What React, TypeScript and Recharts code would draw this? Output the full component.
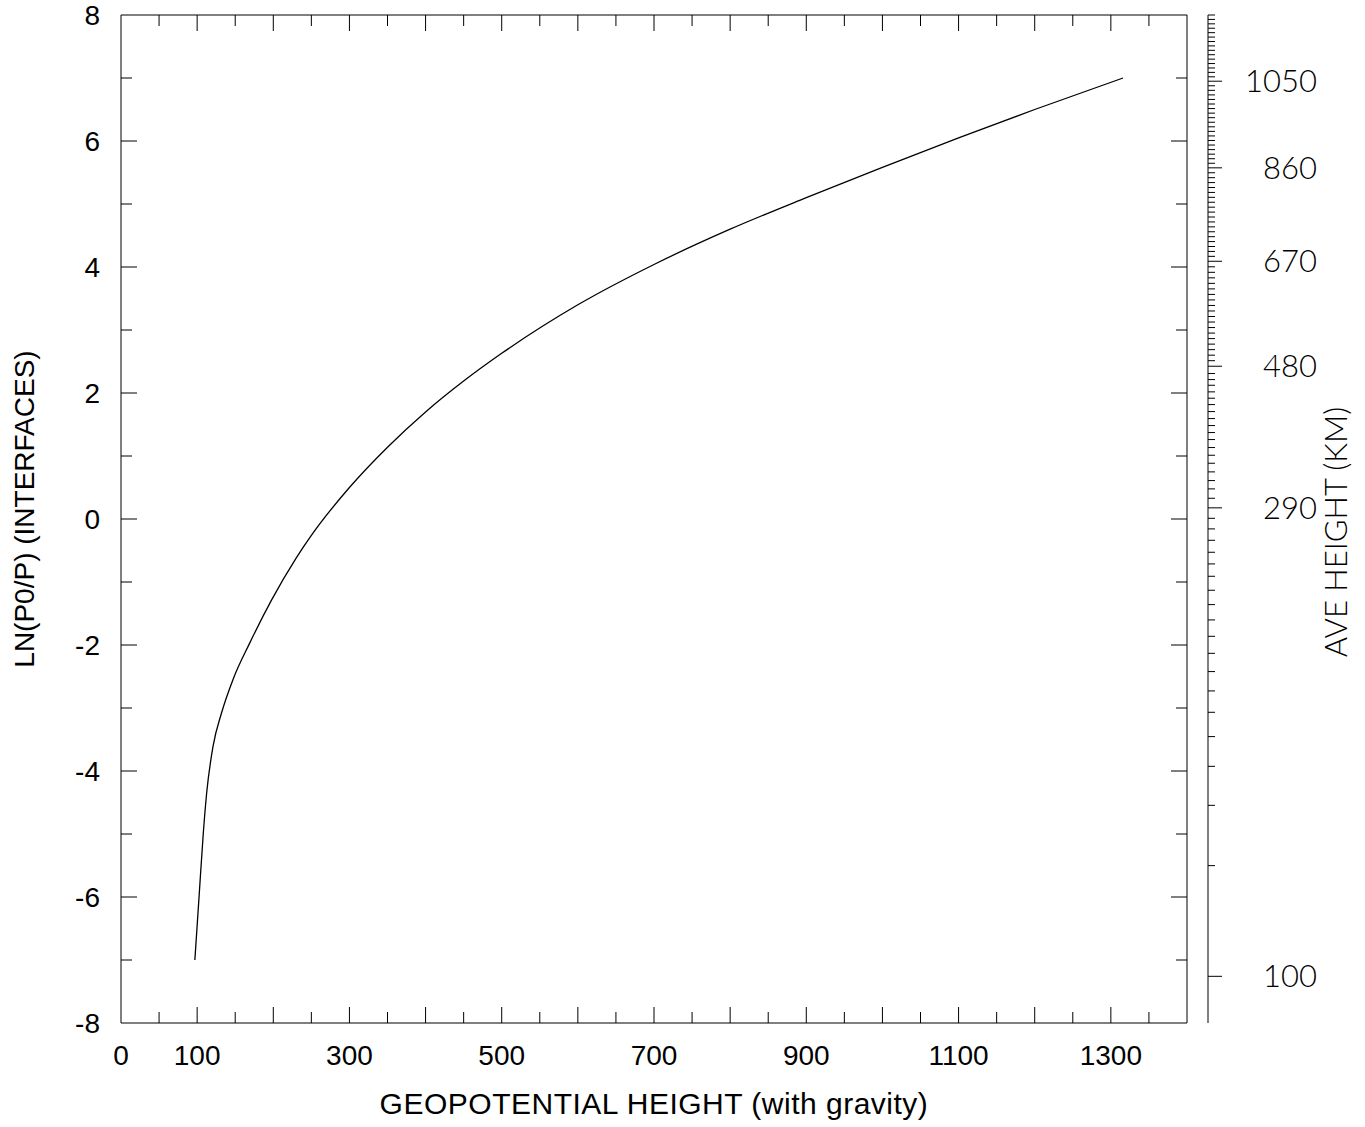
import React from 'react';
import { LineChart, Line, XAxis, YAxis } from 'recharts';

// geopotential height vs ln(p0/p)
const geoHeight = [97, 102.5, 108, 112.5, 121, 132, 147, 169, 198, 230, 250, 300, 350, 400, 450, 500, 600, 700, 800, 900, 1000, 1100, 1200, 1316];
const lnP0P = [-7.0, -6.0, -5.0, -4.35, -3.6, -3.08, -2.55, -1.97, -1.28, -0.62, -0.26, 0.5, 1.14, 1.7, 2.19, 2.63, 3.4, 4.04, 4.6, 5.1, 5.58, 6.05, 6.5, 7.0];

const xLabels = [0, 100, 300, 500, 700, 900, 1100, 1300];
const yLabels = [-8, -6, -4, -2, 0, 2, 4, 6, 8];

// right axis: average height (km) and where it sits on the ln(p0/p) scale
const aveLabels = [100, 290, 480, 670, 860, 1050];
const aveKm = [100, 110, 120, 130, 140, 150, 160, 170, 180, 190, 200, 210, 220, 230, 240, 250, 260, 270, 280, 290, 300, 310, 320, 330, 340, 350, 360, 370, 380, 390, 400, 410, 420, 430, 440, 450, 460, 470, 480, 670, 860, 1050, 1200];
const aveLn = [-7.259, -5.502, -4.545, -3.926, -3.454, -3.068, -2.729, -2.422, -2.132, -1.862, -1.602, -1.359, -1.131, -0.909, -0.713, -0.528, -0.338, -0.157, 0.011, 0.177, 0.329, 0.478, 0.61, 0.748, 0.885, 1.012, 1.134, 1.261, 1.372, 1.483, 1.594, 1.705, 1.816, 1.917, 2.018, 2.123, 2.213, 2.309, 2.425, 4.091, 5.574, 6.949, 8.0];

const data = geoHeight.map((x, i) => ({ x, y: lnP0P[i] }));

const xTicks: number[] = [];
for (let v = 0; v <= 1400; v += 50) xTicks.push(v);
const yTicks: number[] = [];
for (let v = -8; v <= 8; v++) yTicks.push(v);

// one tick every 10 km on the ave height axis
const aveTicks: { km: number; ln: number }[] = [];
for (let km = 100; km <= 1200; km += 10) {
  let j = 0;
  while (j < aveKm.length - 2 && aveKm[j + 1] < km) j++;
  const t = (km - aveKm[j]) / (aveKm[j + 1] - aveKm[j]);
  aveTicks.push({ km, ln: aveLn[j] + t * (aveLn[j + 1] - aveLn[j]) });
}

// the right side axis carries both the frame ticks and the ave height ticks
const rightTicks = [
  ...yTicks.map((v) => ({ kind: 'frame', v, km: 0 })),
  ...aveTicks.map((t) => ({ kind: 'ave', v: t.ln, km: t.km })),
];

const SANS = '"Liberation Sans", Arial, sans-serif';
const THIN = 'Lato, "DejaVu Sans Mono", monospace';
const FS = 28;
const AVE_GAP = 21;

const BottomTick = (p: any) => {
  const v = p.payload.value;
  const len = v % 100 === 0 ? 16 : 11;
  return (
    <g>
      {v > 0 && v < 1400 && <line x1={p.x} x2={p.x} y1={p.y} y2={p.y - len} stroke="#000" />}
      {xLabels.includes(v) && (
        <text x={p.x} y={p.y + 42} textAnchor="middle" fontFamily={SANS} fontSize={FS} fill="#000">{v}</text>
      )}
    </g>
  );
};

const TopTick = (p: any) => {
  const v = p.payload.value;
  const len = v % 100 === 0 ? 16 : 11;
  if (v <= 0 || v >= 1400) return <g />;
  return <line x1={p.x} x2={p.x} y1={p.y} y2={p.y + len} stroke="#000" />;
};

const LeftTick = (p: any) => {
  const v = p.payload.value;
  const len = v % 2 === 0 ? 16 : 11;
  return (
    <g>
      {v > -8 && v < 8 && <line x1={p.x} x2={p.x + len} y1={p.y} y2={p.y} stroke="#000" />}
      {yLabels.includes(v) && (
        <text x={p.x - 21} y={p.y} dy="0.36em" textAnchor="end" fontFamily={SANS} fontSize={FS} fill="#000">{v}</text>
      )}
    </g>
  );
};

const RightTick = (p: any) => {
  const t = rightTicks[p.index];
  if (!t) return <g />;
  if (t.kind === 'frame') {
    const len = t.v % 2 === 0 ? 16 : 11;
    if (t.v <= -8 || t.v >= 8) return <g />;
    return <line x1={p.x} x2={p.x - len} y1={p.y} y2={p.y} stroke="#000" />;
  }
  const ax = p.x + AVE_GAP;
  const major = aveLabels.includes(t.km);
  return (
    <g>
      <line x1={ax} x2={ax + (major ? 14 : 7)} y1={p.y} y2={p.y} stroke="#000" />
      {major && (
        <text x={ax + 109} y={p.y} dy="0.36em" textAnchor="end" fontFamily={THIN} fontWeight={300} fontSize={31} fill="#000">{t.km}</text>
      )}
    </g>
  );
};

export default function App() {
  return (
    <div style={{ position: 'absolute', left: 0, top: 0, background: '#fff' }}>
      <LineChart width={1365} height={1127} data={data} margin={{ top: 14, right: 0, bottom: 0, left: 0 }}>
        <XAxis
          xAxisId="bottom"
          dataKey="x"
          type="number"
          domain={[0, 1400]}
          allowDataOverflow
          ticks={xTicks}
          interval={0}
          height={104}
          tickSize={0}
          tickMargin={0}
          tickLine={false}
          axisLine={{ stroke: '#000' }}
          tick={<BottomTick />}
          label={(lp: any) => {
            const vb = lp.viewBox;
            return (
              <text x={vb.x + vb.width / 2} y={vb.y + 91} textAnchor="middle" fontFamily={SANS} fontSize={30} letterSpacing={0.5} fill="#000">
                GEOPOTENTIAL HEIGHT (with gravity)
              </text>
            );
          }}
        />
        <XAxis
          xAxisId="top"
          orientation="top"
          dataKey="x"
          type="number"
          domain={[0, 1400]}
          allowDataOverflow
          ticks={xTicks}
          interval={0}
          height={1}
          tickSize={0}
          tickMargin={0}
          tickLine={false}
          axisLine={{ stroke: '#000' }}
          tick={<TopTick />}
        />
        <YAxis
          yAxisId="left"
          type="number"
          domain={[-8, 8]}
          allowDataOverflow
          ticks={yTicks}
          interval={0}
          width={121}
          tickSize={0}
          tickMargin={0}
          tickLine={false}
          axisLine={{ stroke: '#000' }}
          tick={<LeftTick />}
          label={(lp: any) => {
            const vb = lp.viewBox;
            const cx = 34;
            const cy = vb.y + vb.height / 2 - 10;
            return (
              <text x={cx} y={cy} transform={`rotate(-90 ${cx} ${cy})`} textAnchor="middle" fontFamily={SANS} fontSize={FS} fill="#000">
                LN(P0/P) (INTERFACES)
              </text>
            );
          }}
        />
        <YAxis
          yAxisId="right"
          orientation="right"
          type="number"
          domain={[-8, 8]}
          allowDataOverflow
          ticks={rightTicks.map((t) => t.v)}
          interval={0}
          width={178}
          tickSize={0}
          tickMargin={0}
          tickLine={false}
          axisLine={{ stroke: '#000' }}
          tick={<RightTick />}
          label={(lp: any) => {
            const vb = lp.viewBox;
            const ax = vb.x + AVE_GAP;
            const cx = ax + 139;
            const cy = vb.y + vb.height / 2 + 13;
            return (
              <g>
                <line x1={ax} x2={ax} y1={vb.y} y2={vb.y + vb.height} stroke="#000" />
                <text x={cx} y={cy} transform={`rotate(-90 ${cx} ${cy})`} textAnchor="middle" fontFamily={THIN} fontWeight={300} fontSize={31} fill="#000">
                  AVE HEIGHT (KM)
                </text>
              </g>
            );
          }}
        />
        <Line
          xAxisId="bottom"
          yAxisId="left"
          dataKey="y"
          type="monotone"
          stroke="#000"
          strokeWidth={1.3}
          dot={false}
          isAnimationActive={false}
        />
      </LineChart>
    </div>
  );
}
